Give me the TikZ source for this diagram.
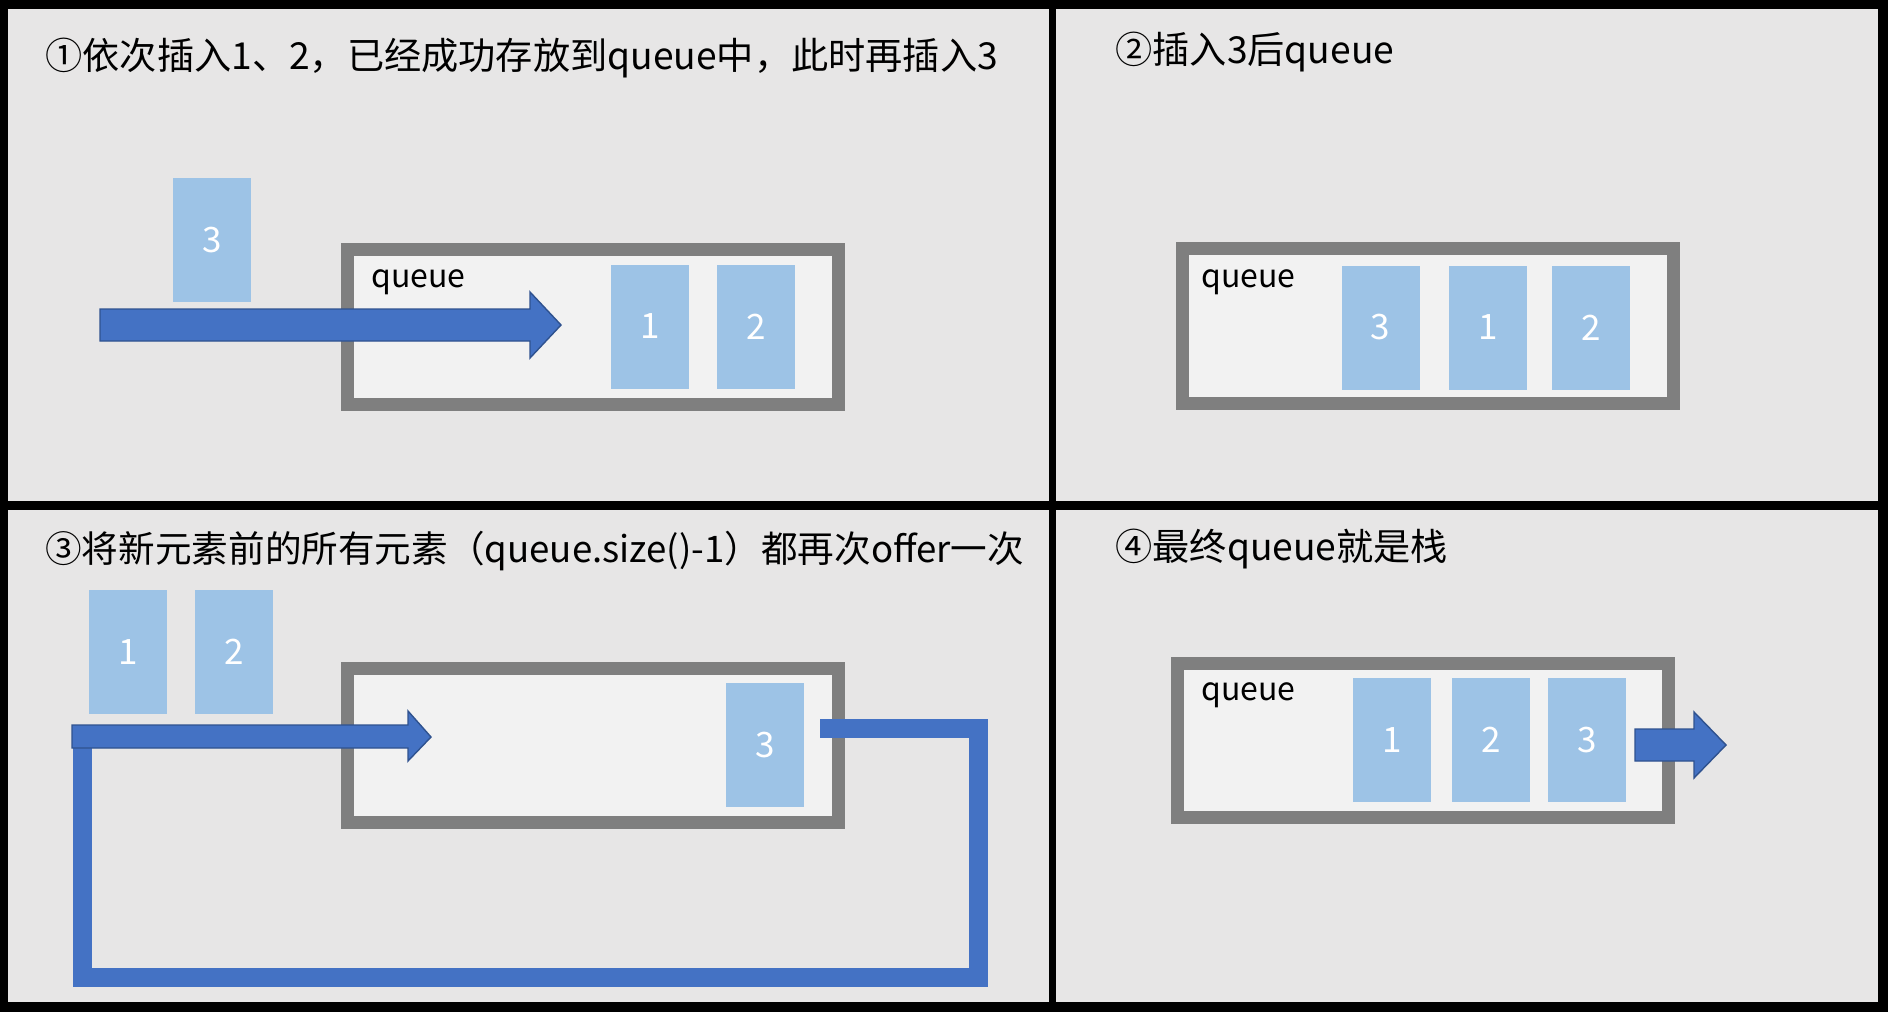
\documentclass[tikz,border=0pt]{standalone}
\usepackage{fontspec}
\setmainfont{Noto Sans CJK SC}
\definecolor{panelgray}{HTML}{E7E6E6}
\definecolor{qgray}{HTML}{7F7F7F}
\definecolor{qfill}{HTML}{F2F2F2}
\definecolor{elemblue}{HTML}{9DC3E6}
\definecolor{arrowblue}{HTML}{4472C4}
\definecolor{arrowline}{HTML}{2F528F}
\begin{document}
\begin{tikzpicture}[x=0.5pt,y=-0.5pt,
		panel/.style={fill=panelgray},
		elem/.style={fill=elemblue,text=white,minimum width=39pt,minimum height=62pt,inner sep=0pt,font=\fontsize{17.5}{17.5}\selectfont},
		qbox/.style={draw=qgray,fill=qfill,line width=6.5pt,minimum width=245.5pt,minimum height=77.5pt,inner sep=0pt},
		qlabel/.style={anchor=base west,inner sep=0pt,font=\fontsize{16}{16}\selectfont},
		title/.style={anchor=base west,inner sep=0pt,font=\fontsize{18.6}{18.6}\selectfont},
		barrow/.style={fill=arrowblue,draw=arrowline,line width=0.7pt,line join=miter},
		loopline/.style={draw=arrowblue,line width=9.5pt,line join=miter}]
				\useasboundingbox (0,0) rectangle (1888,1012);
				\fill (0,0) rectangle (1888,1012);
				\fill[panel] (8,9) rectangle (1049,501);
				\fill[panel] (1056,9) rectangle (1878,501);
				\fill[panel] (8,510) rectangle (1049,1002);
				\fill[panel] (1056,510) rectangle (1878,1002);
				% panel 1
				\node[title] (t1) at (45,69) {①依次插入1、2，已经成功存放到queue中，此时再插入3};
				\node[qbox] (q1) at (592.75,327) {};
				\node[qlabel] (l1) at (371,287) {queue};
				\node[elem] (a3) at (212,240) {3};
				\node[elem] (a1) at (650,326.5) {1};
				\node[elem] (a2) at (756,326.5) {2};
				\draw[barrow] (100,309) -- (530,309) -- (530,292) -- (561,325) -- (530,358) -- (530,341) -- (100,341) -- cycle;
				% panel 2
				\node[title] (t2) at (1115,63) {②插入3后queue};
				\node[qbox] (q2) at (1428,326) {};
				\node[qlabel] (l2) at (1201,287) {queue};
				\node[elem] (b3) at (1380.5,327.5) {3};
				\node[elem] (b1) at (1488,327.5) {1};
				\node[elem] (b2) at (1591,327.5) {2};
				% panel 3
				\node[title,font=\fontsize{18.3}{18.3}\selectfont] (t3) at (45,562) {③将新元素前的所有元素（queue.size()-1）都再次offer一次};
				\node[elem] (c1) at (128,652) {1};
				\node[elem] (c2) at (234,652) {2};
				\node[qbox,minimum height=77pt] (q3) at (592.75,745.5) {};
				\node[elem] (c3) at (765,745) {3};
				\coordinate (lpstart) at (820,728);
				\coordinate (lpend) at (82,737);
				\draw[loopline] (lpstart) -- (978,728) -- (978,977) -- (82,977) -- (lpend);
				\draw[barrow] (72,725) -- (408,725) -- (408,711) -- (431,737) -- (408,761) -- (408,748) -- (72,748) -- cycle;
				% panel 4
				\node[title] (t4) at (1115,560) {④最终queue就是栈};
				\node[qbox,minimum height=77pt] (q4) at (1423,740.5) {};
				\node[qlabel] (l4) at (1201,700) {queue};
				\node[elem] (d1) at (1392,740) {1};
				\node[elem] (d2) at (1491,740) {2};
				\node[elem] (d3) at (1587,740) {3};
				\draw[barrow] (1635,729) -- (1694,729) -- (1694,712) -- (1726,745) -- (1694,778) -- (1694,761) -- (1635,761) -- cycle;
			\end{tikzpicture}
\end{document}
